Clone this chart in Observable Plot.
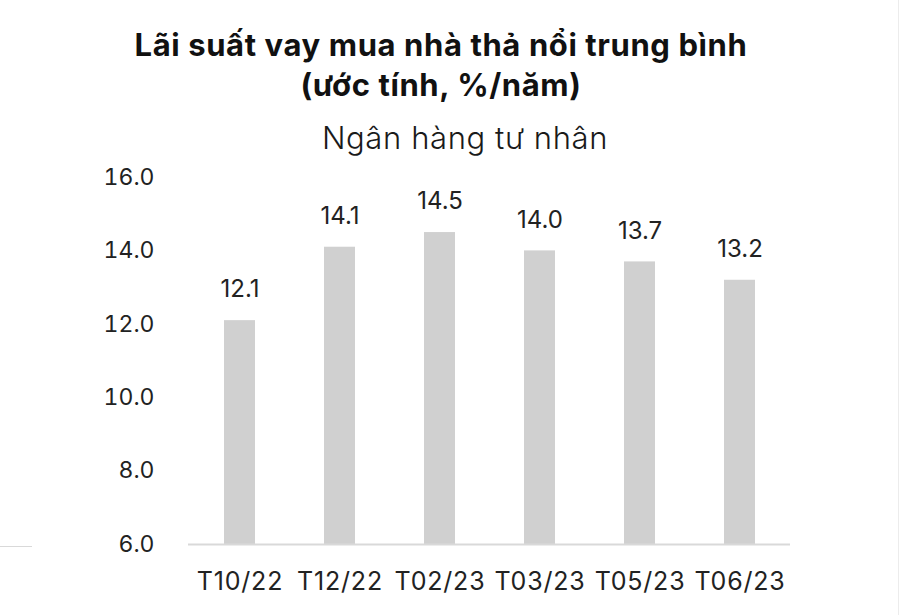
<!DOCTYPE html>
<html>
<head>
<meta charset="utf-8">
<script src="https://cdn.jsdelivr.net/npm/d3@7"></script>
<script src="https://cdn.jsdelivr.net/npm/@observablehq/plot@0.6"></script>
<style>
  html, body { margin: 0; padding: 0; background: #fff; }
  body { width: 900px; height: 615px; position: relative; overflow: hidden; font-family: Inter, "Noto Sans", sans-serif; color: #111; }
  #title { position: absolute; top: 25px; left: 0; width: 882px; text-align: center; font-size: 31px; font-weight: 700; line-height: 40px; letter-spacing: 0.6px; }
  #subtitle { position: absolute; top: 120px; left: 30px; width: 870px; text-align: center; font-size: 31px; font-weight: 300; line-height: 36px; color: #1a1a1a; letter-spacing: 0.6px; }
  #chart { position: absolute; top: 160px; left: 0; }
  #leftrule { position: absolute; left: 0; top: 546px; width: 32px; height: 1px; background: #d9d9d9; }
  #rightrule { position: absolute; right: 1px; top: 0; width: 1px; height: 615px; background: #ececec; }
  g[aria-label="x-axis tick label"] text { letter-spacing: 0.8px; }
</style>
</head>
<body>
<div id="title">Lãi suất vay mua nhà thả nổi trung bình<br>(ước tính, %/năm)</div>
<div id="subtitle">Ngân hàng tư nhân</div>
<div id="chart"></div>
<div id="leftrule"></div>
<div id="rightrule"></div>
<script>
const months = ["T10/22", "T12/22", "T02/23", "T03/23", "T05/23", "T06/23"];
const rates = [12.1, 14.1, 14.5, 14.0, 13.7, 13.2];
const yTicks = [6, 8, 10, 12, 14, 16];

const data = months.map((m, i) => ({month: m, rate: rates[i]}));

const chart = Plot.plot({
  width: 900,
  height: 455,
  marginTop: 17,
  marginBottom: 71,
  marginLeft: 188,
  marginRight: 110,
  style: {fontFamily: "Inter, 'Noto Sans', sans-serif", fontSize: "23px", color: "#222", background: "transparent"},
  x: {domain: months, paddingInner: 0.69, paddingOuter: 0.345, label: null},
  y: {domain: [6, 16], label: null},
  marks: [
    Plot.axisY({ticks: yTicks, tickFormat: d => d.toFixed(1), tickSize: 0, tickPadding: 34, fontSize: 23}),
    Plot.axisX({tickSize: 0, tickPadding: 28, fontSize: 25}),
    Plot.barY(data, {x: "month", y1: 6, y2: "rate", fill: "#d0d0d0"}),
    Plot.ruleY([6], {stroke: "#d9d9d9", strokeWidth: 2}),
    Plot.text(data, {x: "month", y: "rate", text: d => d.rate.toFixed(1), dy: -31, fontSize: 24, fill: "#222"})
  ]
});
document.getElementById("chart").appendChild(chart);
</script>
</body>
</html>
